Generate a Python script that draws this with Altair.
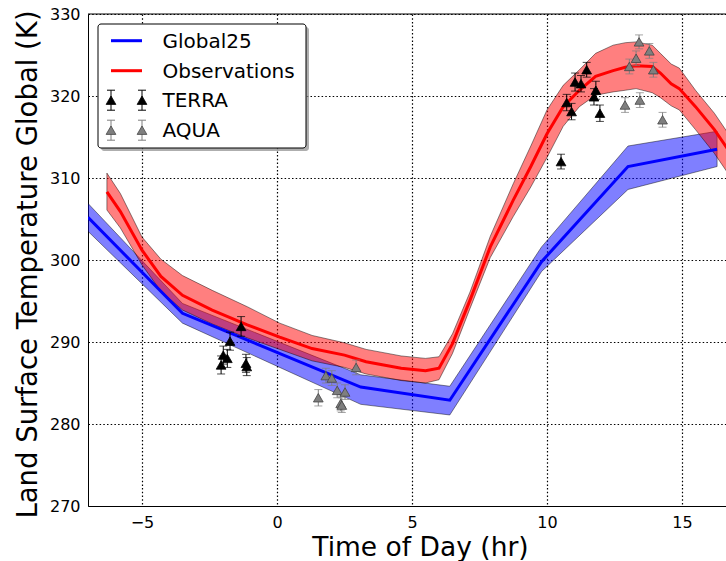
import altair as alt
import pandas as pd

# ---------------- data ----------------
# Global25 model (line + band)
g_x = [-7.0, -3.5, 3.1, 6.4, 9.8, 13.0, 16.3]
g_y = [305.2, 293.5, 284.5, 282.9, 299.8, 311.4, 313.5]
g_lo = [303.5, 292.3, 282.4, 281.1, 298.6, 308.6, 311.4]
g_hi = [306.9, 294.7, 286.0, 284.6, 301.6, 313.9, 315.7]

# Observations (line + band)
o_x = [-6.3, -5.8, -5.0, -4.3, -3.5, -2.4, -1.1, 0.1, 1.3, 2.5, 3.3, 4.6, 5.5,
       6.0, 6.5, 7.15, 7.9, 8.75, 9.4, 10.0, 10.6, 11.2, 11.8, 12.45, 12.9,
       13.3, 13.9, 14.2, 14.6, 14.9, 15.5, 16.2, 16.8]
o_y = [308.3, 305.9, 301.2, 298.0, 295.7, 293.9, 292.1, 290.6, 289.2, 288.4,
       287.6, 286.8, 286.5, 286.8, 289.8, 295.1, 301.6, 307.3, 311.4, 315.4,
       318.7, 320.7, 322.4, 323.1, 323.5, 323.7, 323.6, 322.8, 321.5, 320.9,
       318.7, 315.9, 313.0]
o_hi = [310.6, 308.1, 302.8, 300.1, 298.1, 296.3, 294.3, 292.3, 290.8, 289.9,
        289.1, 288.3, 288.0, 288.2, 291.0, 296.1, 302.9, 309.3, 313.9, 318.3,
        321.3, 323.2, 325.2, 326.2, 326.5, 326.6, 326.2, 325.2, 323.9, 323.4,
        320.7, 317.9, 315.0]
o_lo = [306.1, 303.9, 299.4, 296.2, 293.9, 292.2, 290.5, 289.1, 287.7, 286.9,
        286.1, 285.3, 285.0, 285.4, 288.6, 294.1, 300.3, 305.3, 308.9, 312.5,
        316.3, 318.7, 320.1, 320.5, 320.7, 320.9, 320.4, 319.8, 318.8, 318.3,
        315.9, 313.0, 310.1]

# TERRA satellite points
t_x = [-2.07, -1.99, -1.84, -1.74, -1.33, -1.15, -1.12,
       10.52, 10.73, 10.91, 11.04, 11.26, 11.47, 11.74, 11.81, 11.96]
t_y = [287.2, 288.4, 288.0, 290.1, 291.9, 287.4, 287.0,
       312.0, 319.2, 318.1, 321.7, 321.5, 323.2, 319.9, 320.7, 317.9]
t_err = [1.1, 1.1, 1.1, 1.1, 1.2, 1.1, 1.1,
         0.9, 1.0, 1.0, 1.1, 1.0, 0.9, 1.0, 1.1, 1.0]

# AQUA satellite points
a_x = [1.53, 1.81, 2.03, 2.23, 2.36, 2.40, 2.52, 2.93,
       12.89, 13.05, 13.30, 13.41, 13.44, 13.79, 13.94, 14.28]
a_y = [283.2, 285.9, 285.6, 284.1, 282.5, 282.3, 283.9, 286.9,
       318.9, 323.6, 324.6, 326.6, 319.5, 325.5, 323.2, 317.1]
a_err = [1.0, 0.9, 0.9, 0.9, 0.9, 0.9, 0.9, 0.9,
         0.9, 0.9, 0.9, 0.85, 0.9, 0.9, 0.9, 0.9]

legend_labels = ["Global25", "Observations", "TERRA", "AQUA"]
legend_colors = ["#0000ff", "#ff0000", "#000000", "#7f7f7f"]

x_ticks = [-5, 0, 5, 10, 15]
y_ticks = [270, 280, 290, 300, 310, 320, 330]

# ---------------- build ----------------
W, H = 638, 492
FONT = "DejaVu Sans"

gdf = pd.DataFrame({"x": g_x, "y": g_y, "lo": g_lo, "hi": g_hi})
odf = pd.DataFrame({"x": o_x, "y": o_y, "lo": o_lo, "hi": o_hi})
tdf = pd.DataFrame({"x": t_x, "y": t_y, "err": t_err})
adf = pd.DataFrame({"x": a_x, "y": a_y, "err": a_err})

xs = alt.Scale(domain=[-7, 16.63], nice=False)
ys = alt.Scale(domain=[270, 330], nice=False)

x_axis = alt.Axis(values=x_ticks, title="Time of Day (hr)",
                  titleBaseline="alphabetic", titleY=49, titleX=332,
                  titleAlign="center")
y_axis = alt.Axis(values=y_ticks, title="Land Surface Temperature Global (K)",
                  titleBaseline="alphabetic", titleX=-52, titleY=250,
                  titleAlign="center", titleFontSize=27.5)

X = alt.X("x:Q", scale=xs, axis=x_axis)


def Yf(field):
    return alt.Y(f"{field}:Q", scale=ys, axis=y_axis)


def band(df, color):
    return alt.Chart(df).mark_area(
        clip=True, fill=color, fillOpacity=0.5,
        stroke="#000000", strokeOpacity=0.45, strokeWidth=1
    ).encode(x=X, y=Yf("lo"), y2="hi:Q")


def line(df, color):
    return alt.Chart(df).mark_line(clip=True, color=color, strokeWidth=3).encode(
        x=X, y=Yf("y"))


def sat(df, color, edge):
    base = alt.Chart(df).transform_calculate(
        lo="datum.y - datum.err", hi="datum.y + datum.err")
    bars = base.mark_rule(color=color, strokeWidth=1).encode(
        x=X, y=Yf("lo"), y2="hi:Q")
    cap_lo = base.mark_tick(color=color, orient="horizontal", size=8, thickness=1).encode(
        x=X, y=Yf("lo"))
    cap_hi = base.mark_tick(color=color, orient="horizontal", size=8, thickness=1).encode(
        x=X, y=Yf("hi"))
    pts = base.mark_point(shape="triangle-up", filled=True, size=95, opacity=1,
                          fill=color, stroke=edge, strokeWidth=0.8).encode(x=X, y=Yf("y"))
    return bars + cap_lo + cap_hi + pts


one = pd.DataFrame({"a": [0]})

top_border = alt.Chart(one).mark_rule(color="black", strokeWidth=1).encode(
    x=alt.value(0), x2=alt.value(W), y=alt.value(0))

# legend (drawn inside the plot, top-left)
lx0, lx1, ly0, ly1 = 10, 218, 10, 134
shadow = alt.Chart(one).mark_rect(fill="#8c8c8c", opacity=0.7, cornerRadius=3).encode(
    x=alt.value(lx0 + 3), x2=alt.value(lx1 + 3), y=alt.value(ly0 + 3), y2=alt.value(ly1 + 3))
box = alt.Chart(one).mark_rect(fill="white", stroke="black", strokeWidth=1,
                               cornerRadius=3).encode(
    x=alt.value(lx0), x2=alt.value(lx1), y=alt.value(ly0), y2=alt.value(ly1))

leg_layers = [shadow, box]
rows = [26.7, 56.7, 86.2, 116.2]
sx0, sx1, tx = 23, 54, 74.5
for i, (lab, col) in enumerate(zip(legend_labels, legend_colors)):
    ry = rows[i]
    if i < 2:
        leg_layers.append(alt.Chart(one).mark_rule(color=col, strokeWidth=3).encode(
            x=alt.value(sx0), x2=alt.value(sx1), y=alt.value(ry)))
    else:
        edge = "#000000" if i == 2 else "#444444"
        for sx in (sx0, sx1):
            leg_layers.append(alt.Chart(one).mark_rule(color=col, strokeWidth=1).encode(
                x=alt.value(sx), y=alt.value(ry - 10), y2=alt.value(ry + 10)))
            for cy in (ry - 10, ry + 10):
                leg_layers.append(alt.Chart(one).mark_rule(color=col, strokeWidth=1).encode(
                    x=alt.value(sx - 4), x2=alt.value(sx + 4), y=alt.value(cy)))
            leg_layers.append(alt.Chart(one).mark_point(
                shape="triangle-up", filled=True, size=95, opacity=1, fill=col,
                stroke=edge, strokeWidth=0.8).encode(x=alt.value(sx), y=alt.value(ry)))
    leg_layers.append(alt.Chart(one).mark_text(
        align="left", baseline="middle", font=FONT, fontSize=20, color="black").encode(
        x=alt.value(tx), y=alt.value(ry + 1), text=alt.value(lab)))

chart = alt.layer(
    band(gdf, "#0000ff"),
    band(odf, "#ff0000"),
    line(gdf, "#0000ff"),
    line(odf, "#ff0000"),
    sat(tdf, "#000000", "#000000"),
    sat(adf, "#7f7f7f", "#444444"),
    top_border,
    *leg_layers,
).properties(
    width=W, height=H,
    padding={"left": 88, "top": 14, "right": 0, "bottom": 55},
    autosize=alt.AutoSizeParams(type="none"),
).configure_view(stroke=None).configure_axis(
    domainColor="black", domainWidth=1,
    grid=True, gridColor="black", gridDash=[1.5, 2.2], gridWidth=1.2, gridOpacity=1,
    ticks=False, labelFont=FONT, labelFontSize=16, labelColor="black",
    labelPadding=8, titleFont=FONT, titleFontSize=26.5, titleFontWeight="normal",
    titleColor="black",
)

chart.save("out.html", embed_options={"renderer": "svg", "actions": False})
